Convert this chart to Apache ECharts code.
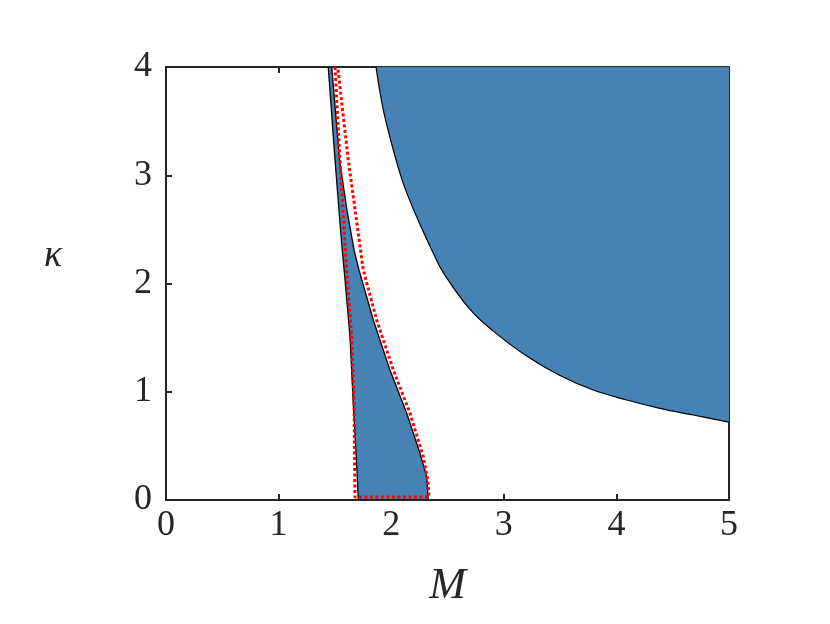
<!DOCTYPE html>
<html>
<head>
<meta charset="utf-8">
<script src="https://cdn.jsdelivr.net/npm/echarts@6/dist/echarts.min.js"></script>
<style>html,body{margin:0;padding:0;background:#fff}#c{width:830px;height:624px}</style>
</head>
<body>
<div id="c"></div>
<script>
// Tick values
const xTicks = [0, 1, 2, 3, 4, 5];
const yTicks = [0, 1, 2, 3, 4];

// Upper-right region boundary (M, kappa)
const upperM = [1.865, 1.930, 2.019, 2.107, 2.226, 2.374, 2.463, 2.70, 2.907, 3.203, 3.499, 3.795, 4.091, 4.387, 4.683, 5.0];
const upperK = [4.0, 3.603, 3.233, 2.925, 2.617, 2.28, 2.10, 1.76, 1.56, 1.33, 1.15, 1.016, 0.924, 0.847, 0.785, 0.72];

// Narrow region: left edge (top -> bottom)
const leftEdgeM = [1.441, 1.501, 1.560, 1.586, 1.634, 1.663, 1.690, 1.708];
const leftEdgeK = [4.0, 3.141, 2.371, 2.08, 1.509, 0.893, 0.40, 0.0];
// Narrow region: right edge (top -> bottom)
const rightEdgeM = [1.472, 1.541, 1.607, 1.67, 1.714, 1.841, 1.989, 2.138, 2.256, 2.315, 2.329];
const rightEdgeK = [4.0, 3.141, 2.679, 2.31, 2.125, 1.663, 1.201, 0.801, 0.431, 0.215, 0.0];

// Red dotted curve: inner branch (top -> bottom), then outer branch (bottom -> top)
const redInnerM = [1.501, 1.545, 1.605, 1.649, 1.670, 1.678];
const redInnerK = [4.0, 3.141, 2.097, 1.509, 0.893, 0.028];
const redOuterM = [2.336, 2.329, 2.285, 2.167, 2.019, 1.871, 1.752, 1.619, 1.525];
const redOuterK = [0.028, 0.154, 0.40, 0.801, 1.201, 1.663, 2.125, 3.141, 4.0];

const zip = (a, b) => a.map((v, i) => [v, b[i]]);
const slimPoly = zip(leftEdgeM, leftEdgeK).concat(zip(rightEdgeM, rightEdgeK).reverse());
const redPath = zip(redInnerM, redInnerK).concat(zip(redOuterM, redOuterK));

const axisCol = '#262626';
const font = '"Liberation Serif", "Times New Roman", serif';

const chart = echarts.init(document.getElementById('c'), null, { renderer: 'canvas' });
const common = {
  type: 'value',
  axisLine: { show: true, onZero: false, lineStyle: { color: axisCol, width: 2 } },
  axisTick: { show: true, inside: true, length: 6, lineStyle: { color: axisCol, width: 2 } },
  splitLine: { show: false }
};
const baseX = Object.assign({}, common, { min: 0, max: 5, interval: 1 });
const baseY = Object.assign({}, common, { min: 0, max: 4, interval: 1 });

chart.setOption({
  backgroundColor: '#fff',
  animation: false,
  grid: { left: 166, top: 67, width: 563, height: 433 },
  xAxis: [
    Object.assign({}, baseX, {
      position: 'bottom',
      axisLabel: { color: axisCol, fontFamily: font, fontSize: 36, margin: 8,
        formatter: v => xTicks.includes(v) ? String(v) : '' },
      name: 'M', nameLocation: 'middle', nameGap: 64,
      nameTextStyle: { fontFamily: font, fontStyle: 'italic', fontSize: 44, color: axisCol, verticalAlign: 'top' }
    }),
    Object.assign({}, baseX, { position: 'top', axisLabel: { show: false } })
  ],
  yAxis: [
    Object.assign({}, baseY, {
      position: 'left',
      axisLabel: { color: axisCol, fontFamily: font, fontSize: 36, margin: 14,
        formatter: v => yTicks.includes(v) ? String(v) : '' }
    }),
    Object.assign({}, baseY, { position: 'right', axisLabel: { show: false } })
  ],
  graphic: [{
    type: 'text', x: 53, y: 256, silent: true,
    style: { text: 'κ', fill: axisCol, font: 'italic 38px ' + font, align: 'center', verticalAlign: 'middle' }
  }],
  series: [
    {
      type: 'line', data: zip(upperM, upperK), showSymbol: false, silent: true, smooth: 0.4,
      lineStyle: { color: '#000', width: 1.2 },
      areaStyle: { color: '#4682B4', opacity: 1, origin: 'end' }, z: 2
    },
    {
      type: 'custom', clip: true, silent: true, data: [0], z: 3,
      renderItem: function (params, api) {
        return {
          type: 'polygon',
          shape: { points: slimPoly.map(p => api.coord(p)) },
          style: { fill: '#4682B4', stroke: '#000', lineWidth: 1.3 }
        };
      }
    },
    {
      type: 'line', data: redPath, showSymbol: false, silent: true, clip: true,
      lineStyle: { color: '#ff0000', width: 3, type: [3, 2.5], cap: 'butt' }, z: 4
    }
  ]
});
</script>
</body>
</html>
